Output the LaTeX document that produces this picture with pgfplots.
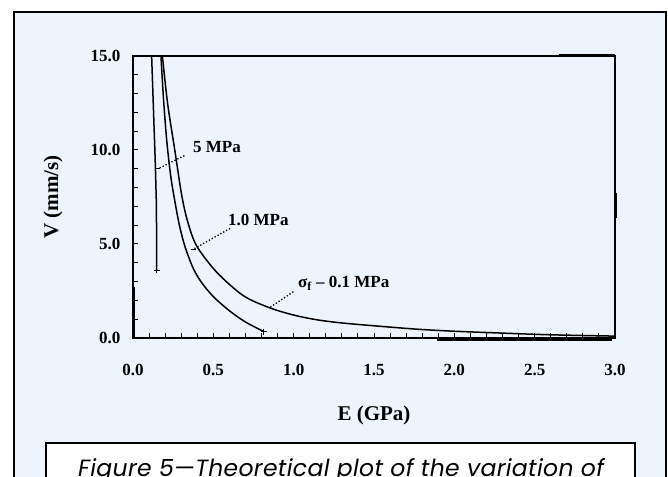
\documentclass[border=0pt]{standalone}
\usepackage{fontspec}
\setmainfont{Liberation Serif}
\newfontfamily\capfont{Poppins}[LetterSpace=1.4]
\usepackage{pgfplots}
\pgfplotsset{compat=1.18}
\definecolor{bgblue}{RGB}{238,244,251}

\begin{document}
\begin{tikzpicture}[x=1pt,y=1pt]
\useasboundingbox (0,0) rectangle (668,476);
\clip (0,0) rectangle (668,476);
\fill[white] (0,0) rectangle (668,476);
% outer frame and caption box
\draw[line width=2pt, fill=bgblue] (14,-10) rectangle (666,464);
\draw[line width=2pt, fill=white] (46,-10) rectangle (635,33);
\node[anchor=base west, inner sep=0] at (78,0)
  {\capfont\itshape\fontsize{23.5}{23.5}\selectfont Figure 5—Theoretical plot of the variation of};

\begin{axis}[
    at={(133pt,138pt)}, anchor=south west,
    scale only axis, width=482pt, height=282pt,
    xmin=0, xmax=3, ymin=0, ymax=15,
    xtick={0,0.5,1,1.5,2,2.5,3}, ytick={0,5,10,15},
    minor x tick num=4, minor y tick num=4,
    tick align=inside, xtick pos=bottom, ytick pos=left,
    major tick length=5pt, minor tick length=5pt,
    axis line style={line width=1.4pt},
    tick style={line width=1pt, black},
    ticklabel style={font=\fontsize{17}{17}\selectfont\bfseries},
    yticklabel style={xshift=-9pt},
    xticklabel style={yshift=-23pt},
    /pgf/number format/.cd, fixed, fixed zerofill, precision=1, assume math mode=true,
    /pgfplots/.cd,
    xlabel={E (GPa)}, ylabel={V (mm/s)},
    every axis x label/.style={at={(axis description cs:0.5,0)}, yshift=-77pt, anchor=center,
        font=\fontsize{21}{21}\selectfont\bfseries},
    every axis y label/.style={at={(axis description cs:0,0.5)}, xshift=-80pt, rotate=90, anchor=center,
        font=\fontsize{21}{21}\selectfont\bfseries},
    clip=false,
    every axis plot/.append style={black, line width=1.5pt},
]
    % 5 MPa
    \addplot[sharp plot] coordinates {
        (0.116,15) (0.138,9.5) (0.146,7) (0.147,3.6)
    };
    % 1.0 MPa
    \addplot[smooth] coordinates {
        (0.174,15) (0.19,12.7) (0.21,10.5) (0.235,8.6) (0.261,7.25) (0.29,5.95)
        (0.324,4.85) (0.375,3.7) (0.427,2.95) (0.5,2.2) (0.6,1.45)
        (0.7,0.85) (0.815,0.34)
    };
    % 0.1 MPa
    \addplot[smooth] coordinates {
        (0.183,15) (0.215,12.5) (0.26,10) (0.303,7.6) (0.34,6.2) (0.396,4.9)
        (0.521,3.5) (0.687,2.25) (0.853,1.6) (1.0,1.22) (1.143,0.97)
        (1.3,0.8) (1.5,0.65) (1.766,0.47) (2.0,0.36) (2.33,0.25) (2.6,0.17) (3.0,0.10)
    };
    % end marks
    \addplot[only marks, mark=+, mark size=3pt, line width=1pt] coordinates {
        (0.815,0.34) (0.147,3.6)
    };
    % heavy scan marks along the frame
    \addplot[line width=3.5pt] coordinates {(1.89,-0.05) (2.98,-0.05)};
    \addplot[line width=3pt] coordinates {(2.65,15) (3.0,15)};
    \addplot[line width=3pt] coordinates {(3.0,6.4) (3.0,7.7)};
    \addplot[line width=3pt] coordinates {(0,0) (0,2.7)};

    % leaders and labels
    \draw[dotted, line width=1.3pt] (axis cs:0.32,9.7) -- (axis cs:0.155,9.0);
    \draw[line width=1.2pt] (axis cs:0.143,9.0) -- (axis cs:0.165,9.0);
    \node[anchor=west, inner sep=0, font=\fontsize{17}{17}\selectfont\bfseries]
        at (axis cs:0.373,10.16) {5 MPa};
    \draw[dotted, line width=1.3pt] (axis cs:0.604,5.83) -- (axis cs:0.375,4.72);
    \draw[line width=1.2pt] (axis cs:0.36,4.72) -- (axis cs:0.39,4.72);
    \node[anchor=west, inner sep=0, font=\fontsize{17}{17}\selectfont\bfseries]
        at (axis cs:0.591,6.28) {1.0 MPa};
    \draw[dotted, line width=1.3pt] (axis cs:0.998,2.46) -- (axis cs:0.853,1.63);
    \node[anchor=west, inner sep=0, font=\fontsize{17}{17}\selectfont\bfseries]
        at (axis cs:1.027,2.91) {σ\textsubscript{f} – 0.1 MPa};
\end{axis}
\end{tikzpicture}
\end{document}
